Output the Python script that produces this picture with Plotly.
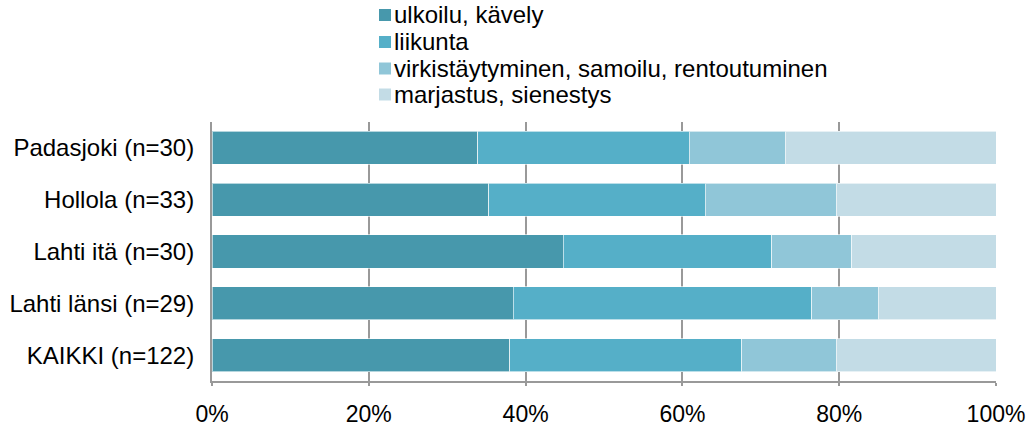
import plotly.graph_objects as go

categories = ["Padasjoki (n=30)", "Hollola (n=33)", "Lahti itä (n=30)", "Lahti länsi (n=29)", "KAIKKI (n=122)"]
series_names = ["ulkoilu, kävely", "liikunta", "virkistäytyminen, samoilu, rentoutuminen", "marjastus, sienestys"]
ulkoilu = [33.9, 35.3, 44.8, 38.4, 38.0]
liikunta = [27.0, 27.6, 26.6, 38.1, 29.6]
virkistys = [12.2, 16.7, 10.2, 8.5, 12.0]
marjastus = [26.9, 20.4, 18.4, 15.0, 20.4]
colors = ["#4798AC", "#55AFC8", "#90C6D8", "#C3DCE6"]
tick_vals = [0, 20, 40, 60, 80, 100]
tick_text = ["0%", "20%", "40%", "60%", "80%", "100%"]

W, H = 1034, 426
ML, MR, MT, MB = 212, 38, 122, 45
PW, PH = W - ML - MR, H - MT - MB


def px_x(p):
    return (p - ML) / PW


def px_y(p):
    return (H - MB - p) / PH


fig = go.Figure()
for name, vals, col in zip(series_names, [ulkoilu, liikunta, virkistys, marjastus], colors):
    fig.add_trace(go.Bar(
        y=categories, x=vals, name=name, orientation="h", showlegend=False,
        marker=dict(color=col, line=dict(color="rgba(255,255,255,0.6)", width=1)),
    ))

# legend built from series names / colors
row_centers = [15, 42, 68.5, 94.5]
shapes = []
annotations = []
for name, col, cy in zip(series_names, colors, row_centers):
    shapes.append(dict(type="rect", xref="paper", yref="paper",
                       x0=px_x(379), x1=px_x(391), y0=px_y(cy + 6), y1=px_y(cy - 6),
                       fillcolor=col, line=dict(width=0)))
    annotations.append(dict(text=name, xref="paper", yref="paper", x=px_x(392), y=px_y(cy),
                            xanchor="left", yanchor="middle", showarrow=False,
                            font=dict(size=24, color="#000000")))

fig.update_layout(
    barmode="stack",
    bargap=0.36,
    width=W, height=H,
    margin=dict(l=ML, r=MR, t=MT, b=MB, autoexpand=False),
    paper_bgcolor="white", plot_bgcolor="white",
    font=dict(family="Liberation Sans, Arial, sans-serif", size=24, color="#000000"),
    showlegend=False,
    shapes=shapes,
    annotations=annotations,
    xaxis=dict(
        range=[0, 100], tickvals=tick_vals, ticktext=tick_text,
        showgrid=True, gridcolor="#999999", gridwidth=2,
        showline=True, linecolor="#999999", linewidth=2,
        ticks="outside", ticklen=3, tickcolor="#999999", tickwidth=2,
        zeroline=False, tickfont=dict(size=23), automargin=False,
        ticklabelstandoff=8,
    ),
    yaxis=dict(
        autorange="reversed", showline=True, linecolor="#999999", linewidth=2,
        showgrid=False, ticks="", tickfont=dict(size=24), automargin=False,
        ticklabelstandoff=11,
    ),
)

fig.write_html(
    "out.html",
    config={"displayModeBar": False},
    post_script="document.body.style.margin='0';document.body.style.overflow='hidden';",
)
